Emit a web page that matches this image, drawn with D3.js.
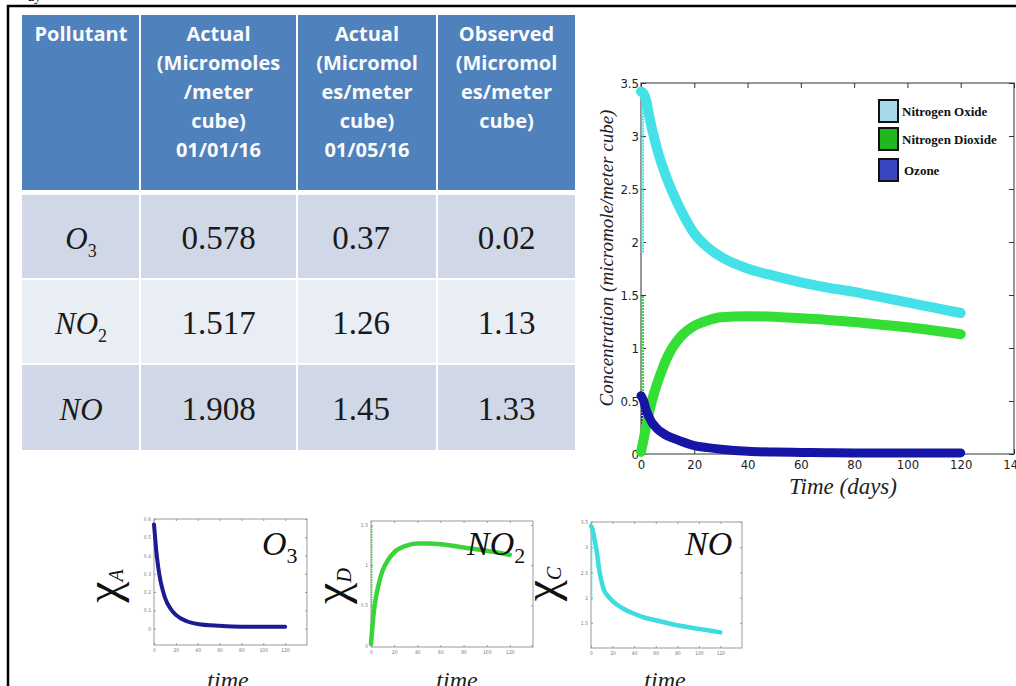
<!DOCTYPE html>
<html>
<head>
<meta charset="utf-8">
<script src="https://cdn.jsdelivr.net/npm/d3@7"></script>
<style>
  html, body { margin: 0; padding: 0; background: #fff; }
  svg { display: block; }
</style>
</head>
<body>
<div id="chart"></div>
<script>
// ---- data ----
var headerLines = [
  ["Pollutant"],
  ["Actual", "(Micromoles", "/meter", "cube)", "01/01/16"],
  ["Actual", "(Micromol", "es/meter", "cube)", "01/05/16"],
  ["Observed", "(Micromol", "es/meter", "cube)"]
];
var pollutantBase = ["O", "NO", "NO"];
var pollutantSub = ["3", "2", ""];
var actualJan = ["0.578", "1.517", "1.908"];
var actualMay = ["0.37", "1.26", "1.45"];
var observed = ["0.02", "1.13", "1.33"];

// main plot: days and concentrations
var days = [0, 1, 2, 3, 4, 5, 6, 8, 10, 12, 15, 20, 25, 30, 40, 50, 60, 70, 80, 90, 100, 110, 120];
var nitrogenOxide = [3.42, 3.40, 3.33, 3.2, 3.08, 2.98, 2.88, 2.72, 2.58, 2.46, 2.3, 2.08, 1.95, 1.86, 1.75, 1.68, 1.62, 1.57, 1.53, 1.48, 1.43, 1.38, 1.33];
var nitrogenDioxide = [0.02, 0.14, 0.27, 0.39, 0.49, 0.58, 0.66, 0.8, 0.92, 1.01, 1.11, 1.21, 1.26, 1.29, 1.3, 1.295, 1.28, 1.265, 1.245, 1.22, 1.195, 1.165, 1.13];
var ozone = [0.55, 0.5, 0.41, 0.35, 0.3, 0.27, 0.24, 0.2, 0.17, 0.15, 0.12, 0.08, 0.06, 0.045, 0.025, 0.018, 0.015, 0.012, 0.01, 0.01, 0.01, 0.01, 0.01];
// first solver steps at t=0 (vertical marker columns)
var startNO = [1.9, 3.42];
var startNO2 = [0, 1.5];
var startO3 = [0, 0.55];
var seriesNames = ["Nitrogen Oxide", "Nitrogen Dioxide", "Ozone"];
var xTicksMain = [0, 20, 40, 60, 80, 100, 120, 140];
var yTicksMain = [0, 0.5, 1, 1.5, 2, 2.5, 3, 3.5];

// small plots
var daysA = [0, 1, 2, 4, 6, 8, 10, 15, 20, 30, 40, 60, 80, 100, 120];
var chiA = [0.57, 0.5, 0.43, 0.33, 0.26, 0.21, 0.17, 0.11, 0.075, 0.04, 0.025, 0.015, 0.01, 0.01, 0.01];
var daysD = [0, 1, 2, 4, 6, 8, 10, 15, 20, 30, 40, 50, 60, 80, 100, 120];
var chiD = [0.02, 0.2, 0.36, 0.58, 0.72, 0.84, 0.93, 1.07, 1.16, 1.24, 1.27, 1.27, 1.26, 1.22, 1.18, 1.13];
var daysC = [0, 1, 2, 3, 5, 8, 10, 12, 15, 20, 30, 40, 50, 60, 80, 100, 120];
var chiC = [3.42, 3.38, 3.3, 3.18, 2.96, 2.5, 2.3, 2.15, 2.05, 1.93, 1.78, 1.68, 1.6, 1.55, 1.45, 1.38, 1.31];
var startD = [0, 1.5];
var startC = [1.95, 3.3];
var xTicksSmall = [0, 20, 40, 60, 80, 100, 120];
var yTicksA = [0, 0.1, 0.2, 0.3, 0.4, 0.5, 0.6];
var yTicksD = [0, 0.5, 1, 1.5];
var yTicksC = [1.5, 2, 2.5, 3, 3.5];

// ---- drawing ----
var serif = "'Liberation Serif','Times New Roman',serif";
var narrow = "'Liberation Sans Narrow','DejaVu Sans Condensed',sans-serif";

var svg = d3.select("#chart").append("svg")
  .attr("width", 1016)
  .attr("height", 686);

// page frame
svg.append("text").attr("x", 28).attr("y", 1)
  .attr("font-family", serif).attr("font-size", 14).text("ay");
svg.append("line").attr("x1", 7).attr("x2", 1016).attr("y1", 6).attr("y2", 6)
  .attr("stroke", "#000").attr("stroke-width", 2.5);
svg.append("line").attr("x1", 8).attr("x2", 8).attr("y1", 5).attr("y2", 686)
  .attr("stroke", "#000").attr("stroke-width", 2.5);

// table
var colX = [22, 140, 297, 437, 576];
var rowY = [[195, 278], [280, 363], [365, 450]];
var rowFill = ["#d0d8e8", "#e9edf4", "#d0d8e8"];

var table = svg.append("g");
headerLines.forEach(function(lines, c) {
  table.append("rect")
    .attr("x", colX[c] + (c ? 1 : 0)).attr("y", 15)
    .attr("width", colX[c + 1] - colX[c] - (c ? 1 : 0) - 1).attr("height", 175)
    .attr("fill", "#4f81bd");
  lines.forEach(function(t, i) {
    table.append("text")
      .attr("x", (colX[c] + colX[c + 1]) / 2)
      .attr("y", 41 + i * 29)
      .attr("text-anchor", "middle")
      .attr("font-family", "'Open Sans',sans-serif")
      .attr("font-weight", "bold")
      .attr("font-size", 20)
      .attr("fill", "#fafafa")
      .text(t);
  });
});

var rows = [0, 1, 2].map(function(i) {
  return [null, actualJan[i], actualMay[i], observed[i]];
});
rows.forEach(function(r, i) {
  for (var c = 0; c < 4; c++) {
    table.append("rect")
      .attr("x", colX[c] + (c ? 1 : 0)).attr("y", rowY[i][0])
      .attr("width", colX[c + 1] - colX[c] - (c ? 1 : 0) - 1)
      .attr("height", rowY[i][1] - rowY[i][0])
      .attr("fill", rowFill[i]);
  }
  var mid = (rowY[i][0] + rowY[i][1]) / 2 + 12;
  var lab = table.append("text")
    .attr("x", (colX[0] + colX[1]) / 2)
    .attr("y", mid)
    .attr("text-anchor", "middle")
    .attr("font-family", serif)
    .attr("font-style", "italic")
    .attr("font-size", 31)
    .attr("fill", "#1a1a1a");
  lab.append("tspan").text(pollutantBase[i]);
  if (pollutantSub[i]) {
    lab.append("tspan").attr("font-size", 18).attr("font-style", "normal").attr("dy", 8).text(pollutantSub[i]);
  }
  for (var c2 = 1; c2 < 4; c2++) {
    table.append("text")
      .attr("x", (colX[c2] + colX[c2 + 1]) / 2 - (c2 == 2 ? 6 : 0))
      .attr("y", mid)
      .attr("text-anchor", "middle")
      .attr("font-family", serif)
      .attr("font-size", 33)
      .attr("fill", "#1a1a1a")
      .text(r[c2]);
  }
});

// main plot
var x = d3.scaleLinear().domain([0, 140]).range([641, 1014]);
var y = d3.scaleLinear().domain([0, 3.5]).range([454, 83]);
var main = svg.append("g");

function boxAxes(g, xs, ys, xt, yt, opts) {
  var x0 = xs.range()[0], x1 = xs.range()[1], y0 = ys.range()[0], y1 = ys.range()[1];
  var bot = g.append("g").attr("transform", "translate(0," + y0 + ")")
    .call(d3.axisBottom(xs).tickValues(xt).tickSizeInner(-opts.tick).tickSizeOuter(0).tickPadding(opts.pad));
  var left = g.append("g").attr("transform", "translate(" + x0 + ",0)")
    .call(d3.axisLeft(ys).tickValues(yt).tickSizeInner(-opts.tick).tickSizeOuter(0).tickPadding(opts.ypad || opts.pad)
      .tickFormat(opts.fmt || null));
  var top = g.append("g").attr("transform", "translate(0," + y1 + ")")
    .call(d3.axisTop(xs).tickValues(xt).tickSizeInner(-opts.tick).tickSizeOuter(0).tickFormat(""));
  var right = g.append("g").attr("transform", "translate(" + x1 + ",0)")
    .call(d3.axisRight(ys).tickValues(yt).tickSizeInner(-opts.tick).tickSizeOuter(0).tickFormat(""));
  [bot, left, top, right].forEach(function(a) {
    a.select(".domain").remove();
    a.selectAll("line").attr("stroke", opts.color);
    a.selectAll("text").attr("font-family", narrow).attr("font-size", opts.font).attr("fill", opts.text);
  });
  g.append("rect").attr("x", x0).attr("y", y1).attr("width", x1 - x0).attr("height", y0 - y1)
    .attr("fill", "none").attr("stroke", opts.color).attr("stroke-width", opts.box);
}

boxAxes(main, x, y, xTicksMain, yTicksMain,
  { tick: 5, pad: 6, ypad: 2, color: "#333", text: "#222", font: 13, box: 1, fmt: d3.format("") });

var mainSeries = [
  { vals: nitrogenOxide, start: startNO, color: "#44e2e8", w: 10 },
  { vals: nitrogenDioxide, start: startNO2, color: "#34de34", w: 10 },
  { vals: ozone, start: startO3, color: "#1616a6", w: 9 }
];
var line = d3.line().curve(d3.curveMonotoneX)
  .x(function(d) { return x(d[0]); })
  .y(function(d) { return y(d[1]); });

mainSeries.forEach(function(s) {
  main.append("line")
    .attr("x1", x(0.6)).attr("x2", x(0.6))
    .attr("y1", y(s.start[0])).attr("y2", y(s.start[1]))
    .attr("stroke", s.color).attr("stroke-width", 3).attr("stroke-dasharray", "2,1");
});
mainSeries.forEach(function(s) {
  main.append("path")
    .datum(days.map(function(t, i) { return [t, s.vals[i]]; }))
    .attr("fill", "none")
    .attr("stroke", s.color)
    .attr("stroke-width", s.w)
    .attr("stroke-linejoin", "round")
    .attr("stroke-linecap", "round")
    .attr("d", line);
});

// legend
var legendFill = ["#a5dbe9", "#20b820", "#3a46c0"];
var legendY = [111, 139, 170];
seriesNames.forEach(function(n, i) {
  main.append("rect")
    .attr("x", 879).attr("y", legendY[i] - 11)
    .attr("width", 19).attr("height", 22)
    .attr("fill", legendFill[i]).attr("stroke", "#111").attr("stroke-width", 2);
  main.append("text")
    .attr("x", i == 2 ? 904 : 902).attr("y", legendY[i] + 5)
    .attr("font-family", serif).attr("font-weight", "bold").attr("font-size", 13)
    .attr("fill", "#111")
    .text(n);
});

main.append("text")
  .attr("transform", "translate(613,258) rotate(-90)")
  .attr("text-anchor", "middle")
  .attr("font-family", serif).attr("font-style", "italic").attr("font-size", 19)
  .attr("fill", "#222")
  .text("Concentration (micromole/meter cube)");
main.append("text")
  .attr("x", 843).attr("y", 494)
  .attr("text-anchor", "middle")
  .attr("font-family", serif).attr("font-style", "italic").attr("font-size", 23)
  .attr("fill", "#222")
  .text("Time (days)");

// small plots
var smalls = [
  { t: daysA, v: chiA, start: null, yt: yTicksA, xr: [154, 307], yd: [-0.09, 0.6], yr: [645, 519],
    color: "#1c1c92", w: 4, chi: "A", chiAt: [119, 586], name: "O", sub: "3", nameAt: [262, 555], mid: 228 },
  { t: daysD, v: chiD, start: startD, yt: yTicksD, xr: [371, 533], yd: [-0.02, 1.55], yr: [647, 521],
    color: "#3ad43a", w: 4.5, chi: "D", chiAt: [347, 586], name: "NO", sub: "2", nameAt: [467, 555], mid: 457 },
  { t: daysC, v: chiC, start: startC, yt: yTicksC, xr: [591, 742], yd: [1, 3.5], yr: [648, 522],
    color: "#3cdcdf", w: 4.5, chi: "C", chiAt: [557, 584], name: "NO", sub: "", nameAt: [685, 555], mid: 665 }
];

smalls.forEach(function(p) {
  var g = svg.append("g");
  var xs = d3.scaleLinear().domain([0, 140]).range(p.xr);
  var ys = d3.scaleLinear().domain(p.yd).range(p.yr);
  boxAxes(g, xs, ys, xTicksSmall, p.yt,
    { tick: 2, pad: 3, color: "#999", text: "#777", font: 5, box: 1, fmt: d3.format("") });
  if (p.start) {
    g.append("line")
      .attr("x1", xs(0.6)).attr("x2", xs(0.6))
      .attr("y1", ys(p.start[0])).attr("y2", ys(p.start[1]))
      .attr("stroke", p.color).attr("stroke-width", 1.5).attr("stroke-dasharray", "1.5,1");
  }
  g.append("path")
    .datum(p.t.map(function(t, i) { return [t, p.v[i]]; }))
    .attr("fill", "none")
    .attr("stroke", p.color)
    .attr("stroke-width", p.w)
    .attr("stroke-linecap", "round")
    .attr("d", d3.line().curve(d3.curveMonotoneX)
      .x(function(d) { return xs(d[0]); })
      .y(function(d) { return ys(d[1]); }));

  var nm = g.append("text")
    .attr("x", p.nameAt[0]).attr("y", p.nameAt[1])
    .attr("font-family", serif).attr("font-style", "italic").attr("font-size", 34)
    .attr("fill", "#111");
  nm.append("tspan").text(p.name);
  if (p.sub) nm.append("tspan").attr("font-size", 22).attr("dy", 8).attr("font-style", "normal").text(p.sub);

  var chi = g.append("text")
    .attr("transform", "translate(" + p.chiAt[0] + "," + p.chiAt[1] + ") rotate(-90)")
    .attr("text-anchor", "middle")
    .attr("font-family", serif).attr("font-size", 48)
    .attr("fill", "#111");
  chi.append("tspan").text("\u03C7");
  chi.append("tspan").attr("font-size", 20).attr("font-style", "italic").attr("dy", 4).text(p.chi);

  g.append("text")
    .attr("x", p.mid).attr("y", 688)
    .attr("text-anchor", "middle")
    .attr("font-family", serif).attr("font-style", "italic").attr("font-size", 24)
    .attr("fill", "#222")
    .text("time");
});
</script>
</body>
</html>
